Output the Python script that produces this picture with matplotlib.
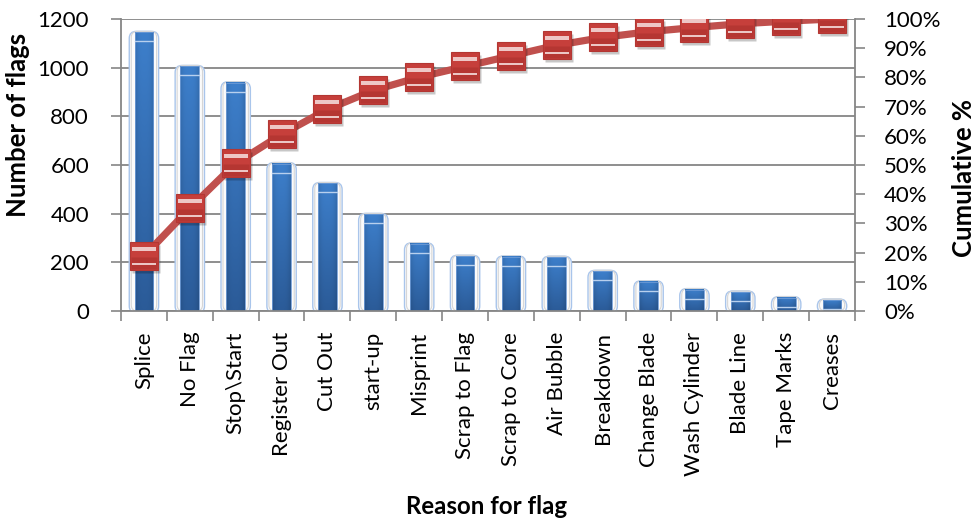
import numpy as np
import matplotlib.pyplot as plt
from matplotlib.patches import FancyBboxPatch
from matplotlib.path import Path
from matplotlib.ticker import FixedLocator, PercentFormatter
import matplotlib.transforms as mtransforms
from matplotlib.colors import to_rgb

# ---- data -------------------------------------------------------------
reasons = ["Splice", "No Flag", "Stop\\Start", "Register Out", "Cut Out", "start-up",
           "Misprint", "Scrap to Flag", "Scrap to Core", "Air Bubble", "Breakdown",
           "Change Blade", "Wash Cylinder", "Blade Line", "Tape Marks", "Creases"]
flags = [1145, 1005, 938, 606, 524, 397, 276, 225, 222, 221, 163, 120, 88, 78, 55, 45]
count_ticks = [0, 200, 400, 600, 800, 1000, 1200]
pct_ticks = [0, 10, 20, 30, 40, 50, 60, 70, 80, 90, 100]

cumulative = np.cumsum(flags) / np.sum(flags) * 100

plt.rcParams['font.family'] = ['Lato', 'DejaVu Sans']

W, H = 978, 524
fig = plt.figure(figsize=(W / 100, H / 100), dpi=100)
L, R, T, B = 121, 855, 19, 311
ax = fig.add_axes([L / W, 1 - B / H, (R - L) / W, (B - T) / H])

n = len(reasons)
x = np.arange(n)
ax.set_xlim(-0.5, n - 0.5)
ax.set_ylim(0, 1200)

grey = '#868686'

# ---- glossy bars ------------------------------------------------------
top_c = np.array(to_rgb('#3D7FCB'))
bot_c = np.array(to_rgb('#2B5B98'))
rows, cols = 80, 24
t = np.linspace(0, 1, rows)[:, None, None]
grad = bot_c * (1 - t) + top_c * t
u = np.linspace(-1, 1, cols)[None, :, None]
shade = 1 - 0.12 * np.abs(u) ** 3
bar_img = np.clip(grad * shade, 0, 1)

px_x = n / (R - L)            # data units per pixel, x
px_y = 1200 / (B - T)         # data units per pixel, y
aspect = px_y / px_x

bar_w = 0.41
halo_w = 0.64
for xi, v in zip(x, flags):
    halo = FancyBboxPatch((xi - halo_w / 2, -2 * px_y), halo_w, v + 3 * px_y,
                          boxstyle=f"round,pad=0,rounding_size={7 * px_x}",
                          mutation_aspect=aspect, facecolor='#FBFBFB',
                          edgecolor='#A9C5EB', lw=1.0, zorder=1.5)
    ax.add_patch(halo)
    inner = FancyBboxPatch((xi - halo_w / 2 + 2 * px_x, 0), halo_w - 4 * px_x, v + 1 * px_y,
                           boxstyle=f"round,pad=0,rounding_size={6 * px_x}",
                           mutation_aspect=aspect, facecolor='none',
                           edgecolor='#D6D6D6', lw=0.8, zorder=1.6)
    ax.add_patch(inner)
    ax.imshow(bar_img, extent=[xi - bar_w / 2, xi + bar_w / 2, 0, v],
              origin='lower', aspect='auto', interpolation='bilinear', zorder=2)
    # highlight near the top of each bar
    ax.plot([xi - bar_w / 2, xi + bar_w / 2], [v - 9 * px_y] * 2,
            color='#B8D0EE', lw=1.0, zorder=2.2)
    ax.plot([xi - bar_w / 2, xi + bar_w / 2, xi + bar_w / 2, xi - bar_w / 2, xi - bar_w / 2],
            [0, 0, v, v, 0], color='#6E9BD6', lw=0.6, zorder=2.1)

ax.set_xlim(-0.5, n - 0.5)
ax.set_ylim(0, 1200)

# ---- axes styling -----------------------------------------------------
ax.yaxis.set_major_locator(FixedLocator(count_ticks))
ax.grid(axis='y', color=grey, lw=1.3, zorder=0)
ax.set_axisbelow(True)
for s in ('top', 'right'):
    ax.spines[s].set_visible(False)
for s in ('left', 'bottom'):
    ax.spines[s].set_color(grey)
    ax.spines[s].set_linewidth(1.3)
ax.tick_params(axis='y', direction='out', length=7, width=1.2, color=grey,
               pad=16, labelsize=16)
ax.set_xticks(x)
ax.set_xticklabels(reasons, rotation=90, fontsize=16)
ax.set_xticks(np.arange(-0.5, n, 1), minor=True)
ax.tick_params(axis='x', which='major', length=0, pad=15)
ax.tick_params(axis='x', which='minor', direction='out', length=7, width=1.2, color=grey)

# ---- cumulative percentage line -------------------------------------
ax2 = ax.twinx()
ax2.set_ylim(0, 100)
ax2.yaxis.set_major_locator(FixedLocator(pct_ticks))
ax2.yaxis.set_major_formatter(PercentFormatter(decimals=0))
for s in ('top', 'left', 'bottom'):
    ax2.spines[s].set_visible(False)
ax2.spines['right'].set_color(grey)
ax2.spines['right'].set_linewidth(1.3)
ax2.tick_params(axis='y', direction='out', length=7, width=1.2, color=grey,
                pad=14, labelsize=16)

ms = 19.5
ax2.plot(x, cumulative, color='#C0504D', lw=5.2, zorder=3, solid_capstyle='butt')
shadow_tr = mtransforms.offset_copy(ax2.transData, fig=fig, x=2, y=-3, units='dots')
ax2.plot(x, cumulative, ls='none', marker='s', ms=ms + 1, mfc='#000000', mec='none',
         alpha=0.22, transform=shadow_tr, zorder=3.5)
ax2.plot(x, cumulative, ls='none', marker='s', ms=ms, mfc='#C63F3B', mec='#B33733',
         mew=0.8, zorder=4)

lower = Path([(-1, -1), (1, -1), (1, -0.05), (-1, -0.05), (-1, -1)],
             [Path.MOVETO, Path.LINETO, Path.LINETO, Path.LINETO, Path.CLOSEPOLY])
ax2.plot(x, cumulative, ls='none', marker=lower, ms=ms * 0.97, mfc='#A82F2C',
         mec='none', alpha=0.55, zorder=4.1)

gloss = Path([(-1, -1), (1, 1),
              (-0.85, 0.62), (0.85, 0.62),
              (-0.85, 0.42), (0.85, 0.42),
              (-0.85, -0.62), (0.85, -0.62)],
             [Path.MOVETO, Path.MOVETO,
              Path.MOVETO, Path.LINETO,
              Path.MOVETO, Path.LINETO,
              Path.MOVETO, Path.LINETO])
ax2.plot(x, cumulative, ls='none', marker=gloss, ms=ms, mfc='none',
         mec='#F3D6D5', mew=1.3, zorder=4.2)

# ---- titles -----------------------------------------------------------
fig.text(18 / W, 1 - 125 / H, "Number of flags", rotation=90, ha='center', va='center',
         fontsize=18.5, fontweight='bold')
fig.text(964 / W, 1 - 178 / H, "Cumulative %", rotation=90, ha='center', va='center',
         fontsize=18.5, fontweight='bold')
fig.text(487 / W, 1 - 507 / H, "Reason for flag", ha='center', va='center',
         fontsize=17.3, fontweight='bold')

fig.savefig('out.png', dpi=100)
